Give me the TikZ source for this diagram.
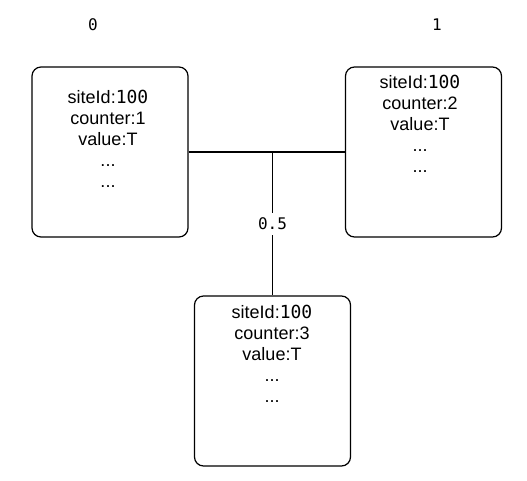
\documentclass[tikz,border=0pt]{standalone}
\usepackage{fontspec}
\setmainfont{Liberation Sans}
\newfontfamily\numfont{DejaVu Sans Mono}
\usepackage{tikz}

\begin{document}
\begin{tikzpicture}[x=1pt,y=-1pt,
	sitebox/.style={shape=rectangle,draw=black,line width=1.2pt,rounded corners=9pt,minimum width=156pt,minimum height=170pt,inner sep=0pt},
	sitetext/.style={anchor=north,inner sep=0pt,align=center,font=\fontsize{18}{21}\selectfont},
	idlabel/.style={font=\numfont\fontsize{16}{18}\selectfont}]
	
	\useasboundingbox (0,0) rectangle (527,480);
	
	\node[idlabel] (zero) at (93, 25) {0};
	\node[idlabel] (one)  at (437, 25) {1};
	
	\node[sitebox] (siteA) at (110, 152)   {};
	\node[sitebox] (siteB) at (423.5, 152) {};
	\node[sitebox] (siteC) at (272.5, 381) {};
	
	\node[sitetext] (textA) at (108, 90)  {siteId:{\numfont 100}\\counter:1\\value:T\\...\\...};
	\node[sitetext] (textB) at (420, 75)  {siteId:{\numfont 100}\\counter:2\\value:T\\...\\...};
	\node[sitetext] (textC) at (272, 305) {siteId:{\numfont 100}\\counter:3\\value:T\\...\\...};
	
	\coordinate (join) at (siteC.north |- siteA.east);
	
	\path[-, line width=1.2pt] (siteA) edge (siteB);
	\path[-, line width=1.2pt] (join) edge node[idlabel,fill=white,inner sep=5pt]{0.5} (siteC.north);
	
\end{tikzpicture}
\end{document}
